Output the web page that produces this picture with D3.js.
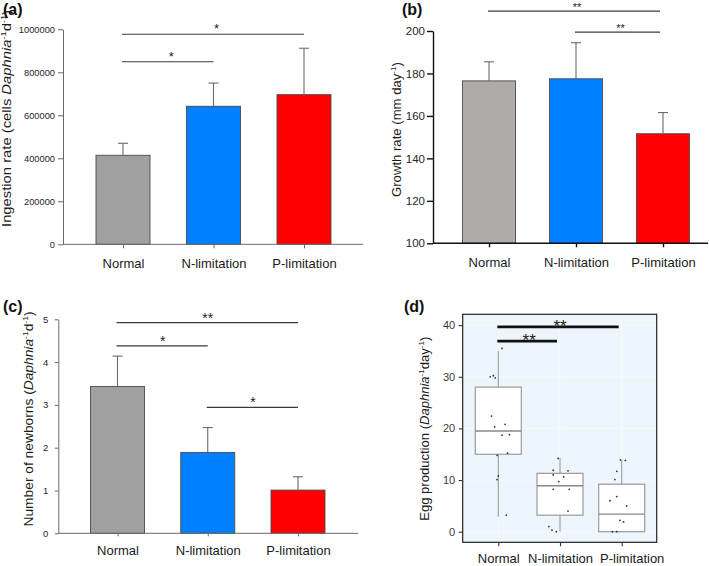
<!DOCTYPE html>
<html><head><meta charset="utf-8">
<script src="https://cdn.jsdelivr.net/npm/d3@7"></script>
<style>
body{margin:0;background:#fff}
svg{display:block;font-family:"Liberation Sans",Arial,Helvetica,sans-serif}
</style>
</head><body>
<svg id="chart" width="709" height="566"></svg>
<script>
// ---------------- data ----------------
const categories = ["Normal", "N-limitation", "P-limitation"];

// (a) Ingestion rate (cells Daphnia-1 d-1)
const ingestionMean = [414000, 642000, 696000];
const ingestionErr  = [56000, 108000, 216000];
const ingestionTicks = [0, 200000, 400000, 600000, 800000, 1000000];
const ingestionSig = [
  {from: "Normal", to: "N-limitation", y: 849000, label: "*"},
  {from: "Normal", to: "P-limitation", y: 977000, label: "*"}
];

// (b) Growth rate (mm day-1)
const growthMean = [176.5, 177.5, 151.6];
const growthErr  = [9, 17, 10];
const growthTicks = [100, 120, 140, 160, 180, 200];
const growthSig = [
  {from: "Normal", to: "P-limitation", y: 209.4, label: "**"},
  {from: "N-limitation", to: "P-limitation", y: 199.5, label: "**"}
];

// (c) Number of newborns (Daphnia-1 d-1)
const newbornMean = [3.43, 1.89, 1.01];
const newbornErr  = [0.71, 0.58, 0.31];
const newbornTicks = [0, 1, 2, 3, 4, 5];
const newbornSig = [
  {from: "Normal", to: "P-limitation", y: 4.92, label: "**"},
  {from: "Normal", to: "N-limitation", y: 4.38, label: "*"},
  {from: "N-limitation", to: "P-limitation", y: 2.94, label: "*"}
];

// (d) Egg production (Daphnia-1 day-1) — box plot statistics
const eggWhiskerLow  = [2.9, 0, 0];
const eggQ1          = [15.0, 3.2, 0];
const eggMedian      = [19.5, 8.9, 3.4];
const eggQ3          = [28.0, 11.3, 9.2];
const eggWhiskerHigh = [35.0, 14.3, 13.9];
// individual observations
const eggNormal = [35.5, 30.0, 30.2, 29.8, 22.4, 20.3, 20.8, 18.7, 18.8, 14.8, 15.2, 10.8, 10.1, 3.2];
const eggNlim   = [14.2, 11.9, 11.8, 11.0, 10.6, 9.7, 8.2, 8.2, 4.0, 1.0, 0.3, 0.0];
const eggPlim   = [13.9, 13.8, 11.7, 10.1, 6.0, 6.8, 5.0, 2.2, 1.9, 0.0, 0.0];
// horizontal jitter of the observations, as a fraction of the category step
const jitterNormal = [0.06, -0.13, -0.08, -0.05, -0.11, -0.06, 0.11, 0.06, 0.18, -0.02, 0.15, 0.0, -0.02, 0.13];
const jitterNlim   = [-0.03, -0.11, 0.13, -0.11, 0.06, -0.02, -0.11, 0.15, 0.13, -0.18, -0.13, -0.06];
const jitterPlim   = [-0.02, 0.06, -0.08, -0.11, -0.19, -0.08, 0.08, -0.03, 0.03, -0.15, -0.08];
const eggTicks = [0, 10, 20, 30, 40];
const eggSig = [
  {from: "Normal", to: "P-limitation", y: 39.65, label: "**"},
  {from: "Normal", to: "N-limitation", y: 36.9, label: "**"}
];

// ---------------- styles ----------------
const barColorsA = ["#a0a0a0", "#0080ff", "#ff0000"];
const barColorsB = ["#afabaa", "#0080ff", "#ff0000"];

const svg = d3.select("#chart");

function addLabel(g, x, y, rotate, fontSize, parts, anchor, textLength) {
  const t = g.append("text")
    .attr("transform", `translate(${x},${y})` + (rotate ? " rotate(-90)" : ""))
    .attr("text-anchor", anchor || "middle")
    .attr("font-size", fontSize)
    .attr("fill", "#1a1a1a");
  if (textLength) t.attr("textLength", textLength).attr("lengthAdjust", "spacingAndGlyphs");
  parts.forEach(p => {
    const s = t.append("tspan").text(p.t);
    if (p.i) s.attr("font-style", "italic");
    if (p.sup) s.attr("font-size", fontSize * 0.62).attr("dy", -fontSize * 0.38);
    if (p.down) s.attr("dy", fontSize * 0.38);
  });
  return t;
}

function barPanel(cfg) {
  const g = svg.append("g");
  const x = d3.scalePoint().domain(categories).range(cfg.xRange);
  const y = d3.scaleLinear().domain(cfg.yDomain).range(cfg.yRange);
  const base = y(cfg.yDomain[0]);

  // bars
  g.selectAll("rect.bar").data(categories).join("rect")
    .attr("x", c => x(c) - cfg.bw / 2)
    .attr("y", (c, i) => y(cfg.mean[i]))
    .attr("width", cfg.bw)
    .attr("height", (c, i) => base - y(cfg.mean[i]))
    .attr("fill", (c, i) => cfg.colors[i])
    .attr("stroke", "#4a4a4a").attr("stroke-width", 0.9);

  // error bars (upper)
  const eb = g.selectAll("g.err").data(categories).join("g");
  eb.append("line")
    .attr("x1", c => x(c)).attr("x2", c => x(c))
    .attr("y1", (c, i) => y(cfg.mean[i]))
    .attr("y2", (c, i) => y(cfg.mean[i] + cfg.err[i]))
    .attr("stroke", cfg.errColor).attr("stroke-width", 1.1);
  eb.append("line")
    .attr("x1", c => x(c) - 5).attr("x2", c => x(c) + 5)
    .attr("y1", (c, i) => y(cfg.mean[i] + cfg.err[i]))
    .attr("y2", (c, i) => y(cfg.mean[i] + cfg.err[i]))
    .attr("stroke", cfg.errColor).attr("stroke-width", 1.1);

  // y axis
  const ya = g.append("g").attr("transform", `translate(${cfg.axisX},0)`)
    .call(d3.axisLeft(y).tickValues(cfg.ticks).tickSize(cfg.yTickSize)
      .tickSizeOuter(0).tickPadding(cfg.yTickPad).tickFormat(d3.format("d")));
  ya.select(".domain").attr("stroke", cfg.axisColor).attr("stroke-width", cfg.axisWidth);
  ya.selectAll(".tick line").attr("stroke", cfg.axisColor).attr("stroke-width", cfg.axisWidth);
  ya.selectAll(".tick text").attr("font-size", cfg.yTickFont).attr("fill", "#262626")
    .attr("font-family", "Liberation Sans, Arial, sans-serif");

  // x axis
  const xa = g.append("g").attr("transform", `translate(0,${base})`)
    .call(d3.axisBottom(x).tickSize(cfg.xTickSize).tickSizeOuter(0).tickPadding(cfg.xTickPad));
  xa.select(".domain").remove();
  xa.append("line").attr("x1", cfg.axisX).attr("x2", cfg.xAxisEnd).attr("y1", 0).attr("y2", 0)
    .attr("stroke", cfg.axisColor).attr("stroke-width", cfg.axisWidth);
  xa.selectAll(".tick line").attr("stroke", cfg.axisColor).attr("stroke-width", cfg.axisWidth);
  xa.selectAll(".tick text").attr("font-size", 13).attr("fill", "#1a1a1a")
    .attr("font-family", "Liberation Sans, Arial, sans-serif");

  // significance
  cfg.sig.forEach(s => {
    const yy = y(s.y);
    g.append("line").attr("x1", x(s.from) - 1).attr("x2", x(s.to) - (cfg.sigEndInset || 0))
      .attr("y1", yy).attr("y2", yy)
      .attr("stroke", "#3a3a3a").attr("stroke-width", 1.2);
    g.append("text").attr("x", (x(s.from) + x(s.to)) / 2 + (cfg.starDx || 0))
      .attr("y", yy + cfg.starDy).attr("text-anchor", "middle")
      .attr("font-size", cfg.starFont).attr("fill", "#222").text(s.label);
  });

  // panel label
  g.append("text").attr("x", cfg.tag[0]).attr("y", cfg.tag[1])
    .attr("font-size", 16).attr("font-weight", "bold").attr("fill", "#111").text(cfg.tagText);

  addLabel(g, cfg.ylab[0], cfg.ylab[1], true, cfg.ylabFont, cfg.ylabParts, "middle", cfg.ylabLen);
}

// (a)
barPanel({
  xRange: [123, 304], yDomain: [0, 1000000], yRange: [244.3, 29.3], bw: 54,
  mean: ingestionMean, err: ingestionErr, colors: barColorsA, errColor: "#6a6a6a",
  ticks: ingestionTicks, axisX: 63, xAxisEnd: 363, axisColor: "#6a6a6a", axisWidth: 1,
  yTickSize: 5, yTickPad: 3, yTickFont: 9.3, xTickSize: 4, xTickPad: 10.5,
  sig: ingestionSig, starDy: -1, starFont: 13, starDx: 3,
  tag: [3, 15], tagText: "(a)",
  ylab: [10.5, 118.5], ylabFont: 12.5, ylabLen: 217,
  ylabParts: [{t: "Ingestion rate (cells "}, {t: "Daphnia", i: true}, {t: "-1", sup: true}, {t: "d", down: true}, {t: "-1", sup: true}, {t: ")", down: true}]
});

// (b)
barPanel({
  xRange: [489, 663], yDomain: [100, 200], yRange: [243.3, 31], bw: 53,
  mean: growthMean, err: growthErr, colors: barColorsB, errColor: "#6a6a6a",
  ticks: growthTicks, axisX: 433, xAxisEnd: 708, axisColor: "#111", axisWidth: 1.4,
  yTickSize: 6, yTickPad: 2, yTickFont: 11.5, xTickSize: 4, xTickPad: 10.5,
  sig: growthSig, starDy: 0, starFont: 11, starDx: 1, sigEndInset: 3,
  tag: [402, 15], tagText: "(b)",
  ylab: [401, 129.5], ylabFont: 13, ylabLen: 135,
  ylabParts: [{t: "Growth rate (mm day"}, {t: "-1", sup: true}, {t: ")", down: true}]
});

// (c)
barPanel({
  xRange: [117.5, 298], yDomain: [0, 5], yRange: [533.3, 319.3], bw: 54,
  mean: newbornMean, err: newbornErr, colors: barColorsA, errColor: "#6a6a6a",
  ticks: newbornTicks, axisX: 58.3, xAxisEnd: 358, axisColor: "#6a6a6a", axisWidth: 1,
  yTickSize: 3.5, yTickPad: 6.5, yTickFont: 9.5, xTickSize: 3, xTickPad: 9,
  sig: newbornSig, starDy: 0, starFont: 14, starDx: 0,
  tag: [3, 312], tagText: "(c)",
  ylab: [32.5, 419], ylabFont: 13, ylabLen: 215,
  ylabParts: [{t: "Number of newborns ("}, {t: "Daphnia", i: true}, {t: "-1", sup: true}, {t: "d", down: true}, {t: "-1", sup: true}, {t: ")", down: true}]
});

// (d) box plot
(function () {
  const g = svg.append("g");
  const left = 462.7, right = 656.7, top = 314.3, bottom = 542.3;
  const x = d3.scalePoint().domain(categories).range([498.3, 621.7]);
  const y = d3.scaleLinear().domain([-2.05, 42.1]).range([bottom, top]);
  const step = x.step();
  const bw = 46;

  g.append("rect").attr("x", left).attr("y", top).attr("width", right - left).attr("height", bottom - top)
    .attr("fill", "#edf5fd");
  // faint grid
  g.selectAll("line.gy").data(eggTicks).join("line")
    .attr("x1", left).attr("x2", right).attr("y1", d => y(d)).attr("y2", d => y(d))
    .attr("stroke", "#f7fbff").attr("stroke-width", 0.8);
  g.selectAll("line.gx").data(categories).join("line")
    .attr("x1", c => x(c)).attr("x2", c => x(c)).attr("y1", top).attr("y2", bottom)
    .attr("stroke", "#f7fbff").attr("stroke-width", 0.8);

  // whiskers
  g.selectAll("line.wh").data(categories).join("line")
    .attr("x1", c => x(c)).attr("x2", c => x(c))
    .attr("y1", (c, i) => y(eggWhiskerLow[i])).attr("y2", (c, i) => y(eggWhiskerHigh[i]))
    .attr("stroke", "#9a9a9a").attr("stroke-width", 1.1);
  // boxes
  g.selectAll("rect.box").data(categories).join("rect")
    .attr("x", c => x(c) - bw / 2).attr("width", bw)
    .attr("y", (c, i) => y(eggQ3[i])).attr("height", (c, i) => y(eggQ1[i]) - y(eggQ3[i]))
    .attr("fill", "#fff").attr("stroke", "#9a9a9a").attr("stroke-width", 1.2);
  g.selectAll("line.med").data(categories).join("line")
    .attr("x1", c => x(c) - bw / 2).attr("x2", c => x(c) + bw / 2)
    .attr("y1", (c, i) => y(eggMedian[i])).attr("y2", (c, i) => y(eggMedian[i]))
    .attr("stroke", "#888").attr("stroke-width", 1.4);

  // points
  const groups = [[eggNormal, jitterNormal], [eggNlim, jitterNlim], [eggPlim, jitterPlim]];
  groups.forEach(([vals, jit], gi) => {
    g.selectAll(null).data(vals).join("circle")
      .attr("cx", (v, j) => x(categories[gi]) + jit[j] * step)
      .attr("cy", v => y(v)).attr("r", 0.9).attr("fill", "#333");
  });

  // border
  g.append("rect").attr("x", left).attr("y", top).attr("width", right - left).attr("height", bottom - top)
    .attr("fill", "none").attr("stroke", "#222").attr("stroke-width", 1.2);

  // y axis
  const ya = g.append("g").attr("transform", `translate(${left},0)`)
    .call(d3.axisLeft(y).tickValues(eggTicks).tickSize(4).tickSizeOuter(0).tickPadding(3.5));
  ya.select(".domain").remove();
  ya.selectAll(".tick line").attr("stroke", "#333").attr("stroke-width", 1.1);
  ya.selectAll(".tick text").attr("font-size", 11).attr("fill", "#3a3a3a")
    .attr("font-family", "Liberation Sans, Arial, sans-serif");
  // x axis
  const xa = g.append("g").attr("transform", `translate(0,${bottom})`)
    .call(d3.axisBottom(x).tickSize(4).tickSizeOuter(0).tickPadding(7.5));
  xa.select(".domain").remove();
  xa.selectAll(".tick line").attr("stroke", "#333").attr("stroke-width", 1.1);
  xa.selectAll(".tick text").attr("font-size", 13).attr("fill", "#1a1a1a")
    .attr("font-family", "Liberation Sans, Arial, sans-serif")
    .attr("dx", (c, i) => i === 2 ? 10 : 0);

  // significance
  eggSig.forEach(s => {
    const yy = y(s.y);
    g.append("line").attr("x1", x(s.from) - 1).attr("x2", x(s.to) - 3)
      .attr("y1", yy).attr("y2", yy).attr("stroke", "#111").attr("stroke-width", 2.8);
    g.append("text").attr("x", (x(s.from) + x(s.to)) / 2).attr("y", yy + 5)
      .attr("text-anchor", "middle").attr("font-size", 17).attr("fill", "#222").text(s.label);
  });

  g.append("text").attr("x", 404).attr("y", 312)
    .attr("font-size", 16).attr("font-weight", "bold").attr("fill", "#111").text("(d)");

  addLabel(g, 429, 428.7, true, 13, [{t: "Egg production ("}, {t: "Daphnia", i: true}, {t: "-1", sup: true}, {t: "day", down: true}, {t: "-1", sup: true}, {t: ")", down: true}], "middle", 184);
})();
</script>
</body></html>
